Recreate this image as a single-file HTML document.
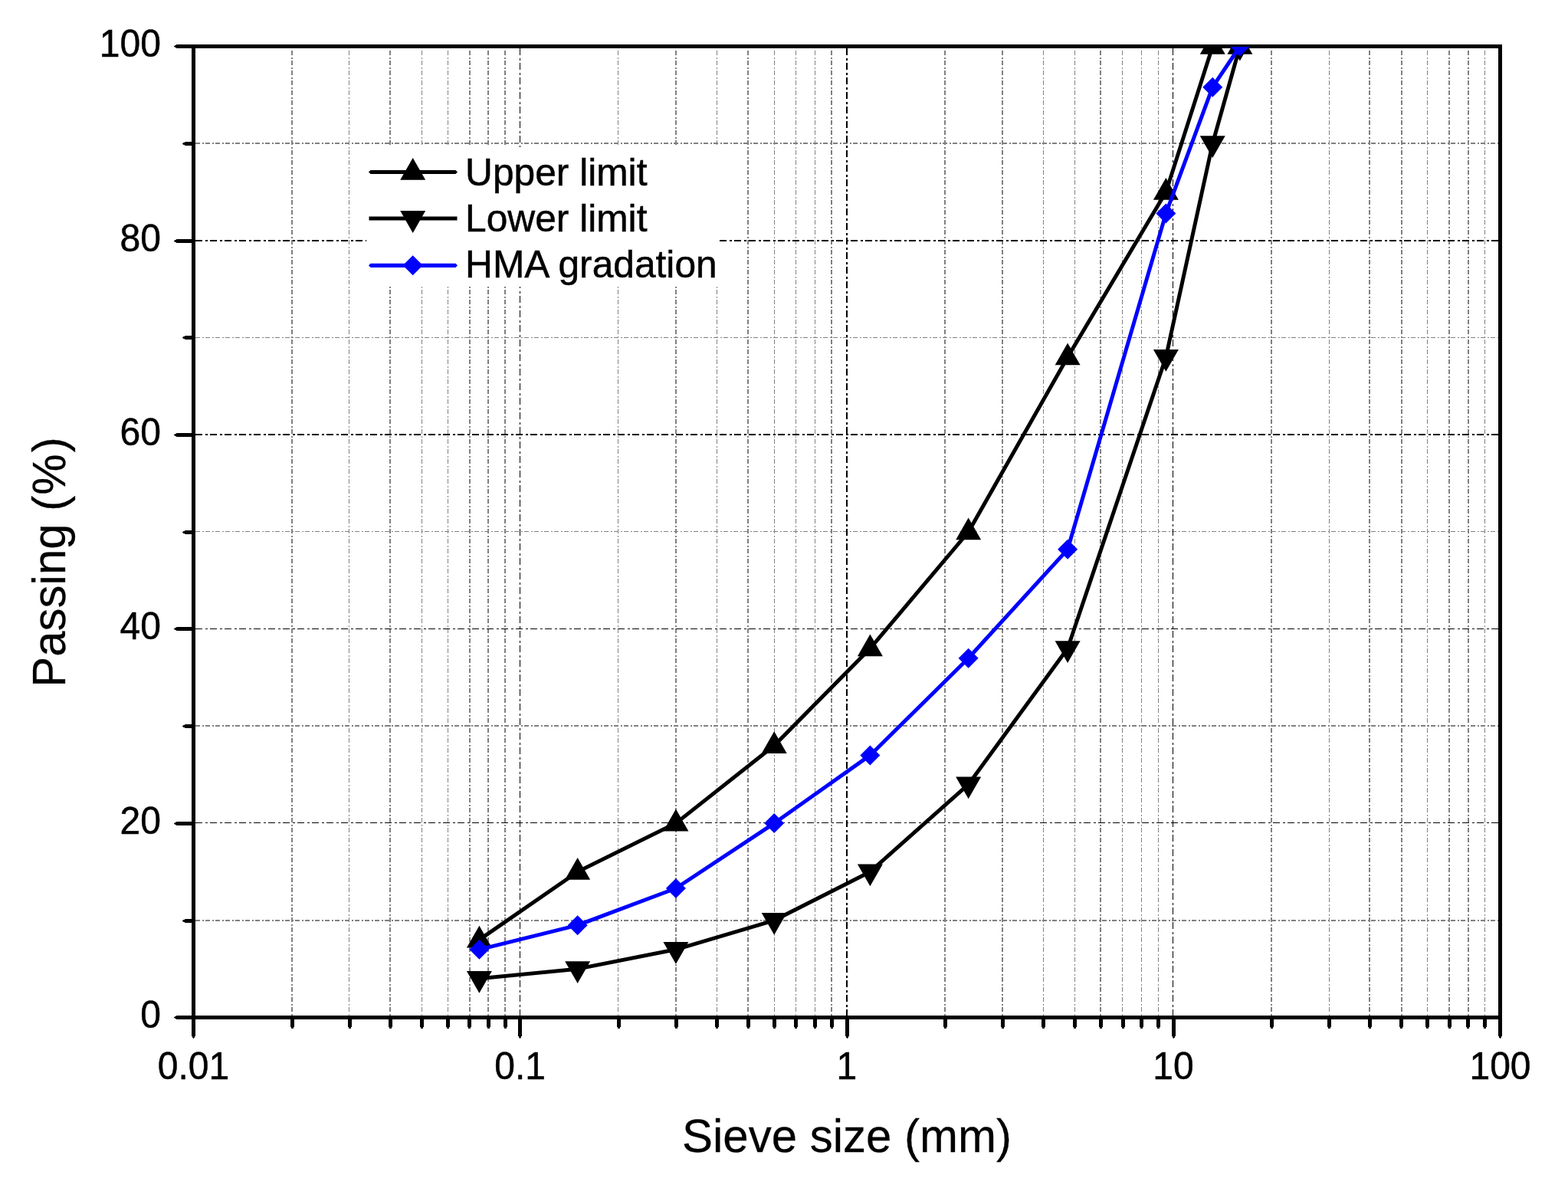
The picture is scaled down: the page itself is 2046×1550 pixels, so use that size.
<!DOCTYPE html>
<html lang="en">
<head>
<meta charset="utf-8">
<title>Gradation curve</title>
<style>
html,body{margin:0;padding:0;background:#fff;}
body{width:2046px;height:1550px;overflow:hidden;}
svg{display:block;}
text{font-family:"Liberation Sans", sans-serif;fill:#000;stroke:#000;stroke-width:0.5px;}
text.ttl{stroke-width:0.25px;}
</style>
</head>
<body>
<svg width="2046" height="1550" viewBox="0 0 2046 1550">
<rect x="0" y="0" width="2046" height="1550" fill="#ffffff"/>
<defs><clipPath id="plot"><rect x="252" y="61" width="1706" height="1267"/></clipPath></defs>
<g fill="none" shape-rendering="crispEdges">
<line x1="381" y1="66" x2="381" y2="1325" stroke="#808080" stroke-width="2" stroke-dasharray="6.3 2.35 2 2.35"/>
<line x1="455.5" y1="66" x2="455.5" y2="1325" stroke="#808080" stroke-width="1" stroke-dasharray="6.3 2.35 2 2.35"/>
<line x1="509" y1="66" x2="509" y2="1325" stroke="#808080" stroke-width="2" stroke-dasharray="6.3 2.35 2 2.35"/>
<line x1="550.5" y1="66" x2="550.5" y2="1325" stroke="#808080" stroke-width="1" stroke-dasharray="6.3 2.35 2 2.35"/>
<line x1="584.5" y1="66" x2="584.5" y2="1325" stroke="#808080" stroke-width="1" stroke-dasharray="6.3 2.35 2 2.35"/>
<line x1="613" y1="66" x2="613" y2="1325" stroke="#808080" stroke-width="2" stroke-dasharray="6.3 2.35 2 2.35"/>
<line x1="637" y1="66" x2="637" y2="1325" stroke="#808080" stroke-width="2" stroke-dasharray="6.3 2.35 2 2.35"/>
<line x1="659" y1="66" x2="659" y2="1325" stroke="#808080" stroke-width="2" stroke-dasharray="6.3 2.35 2 2.35"/>
<line x1="806.5" y1="66" x2="806.5" y2="1325" stroke="#808080" stroke-width="1" stroke-dasharray="6.3 2.35 2 2.35"/>
<line x1="882" y1="66" x2="882" y2="1325" stroke="#808080" stroke-width="2" stroke-dasharray="6.3 2.35 2 2.35"/>
<line x1="935.5" y1="66" x2="935.5" y2="1325" stroke="#808080" stroke-width="1" stroke-dasharray="6.3 2.35 2 2.35"/>
<line x1="976" y1="66" x2="976" y2="1325" stroke="#808080" stroke-width="2" stroke-dasharray="6.3 2.35 2 2.35"/>
<line x1="1010.5" y1="66" x2="1010.5" y2="1325" stroke="#808080" stroke-width="1" stroke-dasharray="6.3 2.35 2 2.35"/>
<line x1="1038.5" y1="66" x2="1038.5" y2="1325" stroke="#808080" stroke-width="1" stroke-dasharray="6.3 2.35 2 2.35"/>
<line x1="1063.5" y1="66" x2="1063.5" y2="1325" stroke="#808080" stroke-width="1" stroke-dasharray="6.3 2.35 2 2.35"/>
<line x1="1085" y1="66" x2="1085" y2="1325" stroke="#808080" stroke-width="2" stroke-dasharray="6.3 2.35 2 2.35"/>
<line x1="1233" y1="66" x2="1233" y2="1325" stroke="#808080" stroke-width="2" stroke-dasharray="6.3 2.35 2 2.35"/>
<line x1="1308" y1="66" x2="1308" y2="1325" stroke="#808080" stroke-width="2" stroke-dasharray="6.3 2.35 2 2.35"/>
<line x1="1361.5" y1="66" x2="1361.5" y2="1325" stroke="#808080" stroke-width="1" stroke-dasharray="6.3 2.35 2 2.35"/>
<line x1="1402.5" y1="66" x2="1402.5" y2="1325" stroke="#808080" stroke-width="1" stroke-dasharray="6.3 2.35 2 2.35"/>
<line x1="1436" y1="66" x2="1436" y2="1325" stroke="#808080" stroke-width="2" stroke-dasharray="6.3 2.35 2 2.35"/>
<line x1="1464.5" y1="66" x2="1464.5" y2="1325" stroke="#808080" stroke-width="1" stroke-dasharray="6.3 2.35 2 2.35"/>
<line x1="1489.5" y1="66" x2="1489.5" y2="1325" stroke="#808080" stroke-width="1" stroke-dasharray="6.3 2.35 2 2.35"/>
<line x1="1511.5" y1="66" x2="1511.5" y2="1325" stroke="#808080" stroke-width="1" stroke-dasharray="6.3 2.35 2 2.35"/>
<line x1="1659" y1="66" x2="1659" y2="1325" stroke="#808080" stroke-width="2" stroke-dasharray="6.3 2.35 2 2.35"/>
<line x1="1734.5" y1="66" x2="1734.5" y2="1325" stroke="#808080" stroke-width="1" stroke-dasharray="6.3 2.35 2 2.35"/>
<line x1="1787" y1="66" x2="1787" y2="1325" stroke="#808080" stroke-width="2" stroke-dasharray="6.3 2.35 2 2.35"/>
<line x1="1829" y1="66" x2="1829" y2="1325" stroke="#808080" stroke-width="2" stroke-dasharray="6.3 2.35 2 2.35"/>
<line x1="1862.5" y1="66" x2="1862.5" y2="1325" stroke="#808080" stroke-width="1" stroke-dasharray="6.3 2.35 2 2.35"/>
<line x1="1891" y1="66" x2="1891" y2="1325" stroke="#808080" stroke-width="2" stroke-dasharray="6.3 2.35 2 2.35"/>
<line x1="1916" y1="66" x2="1916" y2="1325" stroke="#808080" stroke-width="2" stroke-dasharray="6.3 2.35 2 2.35"/>
<line x1="1937.5" y1="66" x2="1937.5" y2="1325" stroke="#808080" stroke-width="1" stroke-dasharray="6.3 2.35 2 2.35"/>
<line x1="255" y1="1201" x2="1955" y2="1201" stroke="#808080" stroke-width="2" stroke-dasharray="6.3 2.35 2 2.35"/>
<line x1="255" y1="947" x2="1955" y2="947" stroke="#808080" stroke-width="2" stroke-dasharray="6.3 2.35 2 2.35"/>
<line x1="255" y1="693.5" x2="1955" y2="693.5" stroke="#808080" stroke-width="1" stroke-dasharray="6.3 2.35 2 2.35"/>
<line x1="255" y1="440.5" x2="1955" y2="440.5" stroke="#808080" stroke-width="1" stroke-dasharray="6.3 2.35 2 2.35"/>
<line x1="255" y1="187" x2="1955" y2="187" stroke="#808080" stroke-width="2" stroke-dasharray="6.3 2.35 2 2.35"/>
<line x1="678.5" y1="63" x2="678.5" y2="1325" stroke="#000" stroke-width="1" stroke-dasharray="9.4 3.3 3 3.3"/>
<line x1="1105" y1="63" x2="1105" y2="1325" stroke="#000" stroke-width="2" stroke-dasharray="9.4 3.3 3 3.3"/>
<line x1="1530.5" y1="63" x2="1530.5" y2="1325" stroke="#000" stroke-width="1" stroke-dasharray="9.4 3.3 3 3.3"/>
<line x1="255" y1="1073.5" x2="1955" y2="1073.5" stroke="#000" stroke-width="1" stroke-dasharray="9.4 3.3 3 3.3"/>
<line x1="255" y1="820.5" x2="1955" y2="820.5" stroke="#000" stroke-width="1" stroke-dasharray="9.4 3.3 3 3.3"/>
<line x1="255" y1="567" x2="1955" y2="567" stroke="#000" stroke-width="2" stroke-dasharray="9.4 3.3 3 3.3"/>
<line x1="255" y1="314" x2="1955" y2="314" stroke="#000" stroke-width="2" stroke-dasharray="9.4 3.3 3 3.3"/>
</g>
<rect x="478" y="192" width="461" height="182" fill="#ffffff"/>
<g fill="#000" shape-rendering="crispEdges">
<rect x="250" y="58" width="1710" height="5"/>
<rect x="250" y="1325" width="1710" height="5"/>
<rect x="250" y="58" width="5" height="1272"/>
<rect x="1955" y="58" width="5" height="1272"/>
<path d="M251 1325 H230 V1326 H228 V1327 H227 V1328 H228 V1329 H230 V1330 H251Z"/>
<path d="M251 1199 H241 V1200 H239 V1201 H238 V1202 H239 V1203 H241 V1204 H251Z"/>
<path d="M251 1072 H230 V1073 H228 V1074 H227 V1075 H228 V1076 H230 V1077 H251Z"/>
<path d="M251 945 H241 V946 H239 V947 H238 V948 H239 V949 H241 V950 H251Z"/>
<path d="M251 818 H230 V819 H228 V820 H227 V821 H228 V822 H230 V823 H251Z"/>
<path d="M251 692 H241 V693 H239 V694 H238 V695 H239 V696 H241 V697 H251Z"/>
<path d="M251 565 H230 V566 H228 V567 H227 V568 H228 V569 H230 V570 H251Z"/>
<path d="M251 438 H241 V439 H239 V440 H238 V441 H239 V442 H241 V443 H251Z"/>
<path d="M251 312 H230 V313 H228 V314 H227 V315 H228 V316 H230 V317 H251Z"/>
<path d="M251 185 H241 V186 H239 V187 H238 V188 H239 V189 H241 V190 H251Z"/>
<path d="M251 58 H230 V59 H228 V60 H227 V61 H228 V62 H230 V63 H251Z"/>
<path d="M250 1329 V1352 H251 V1354 H252 V1355 H253 V1354 H254 V1352 H255 V1329Z"/>
<path d="M379 1329 V1340 H380 V1342 H383 V1340 H384 V1329Z"/>
<path d="M454 1329 V1340 H455 V1342 H458 V1340 H459 V1329Z"/>
<path d="M507 1329 V1340 H508 V1342 H511 V1340 H512 V1329Z"/>
<path d="M548 1329 V1340 H549 V1342 H552 V1340 H553 V1329Z"/>
<path d="M582 1329 V1340 H583 V1342 H586 V1340 H587 V1329Z"/>
<path d="M610 1329 V1340 H611 V1342 H614 V1340 H615 V1329Z"/>
<path d="M635 1329 V1340 H636 V1342 H639 V1340 H640 V1329Z"/>
<path d="M657 1329 V1340 H658 V1342 H661 V1340 H662 V1329Z"/>
<path d="M676 1329 V1352 H677 V1354 H678 V1355 H679 V1354 H680 V1352 H681 V1329Z"/>
<path d="M805 1329 V1340 H806 V1342 H809 V1340 H810 V1329Z"/>
<path d="M880 1329 V1340 H881 V1342 H884 V1340 H885 V1329Z"/>
<path d="M933 1329 V1340 H934 V1342 H937 V1340 H938 V1329Z"/>
<path d="M974 1329 V1340 H975 V1342 H978 V1340 H979 V1329Z"/>
<path d="M1008 1329 V1340 H1009 V1342 H1012 V1340 H1013 V1329Z"/>
<path d="M1036 1329 V1340 H1037 V1342 H1040 V1340 H1041 V1329Z"/>
<path d="M1061 1329 V1340 H1062 V1342 H1065 V1340 H1066 V1329Z"/>
<path d="M1083 1329 V1340 H1084 V1342 H1087 V1340 H1088 V1329Z"/>
<path d="M1103 1329 V1352 H1104 V1354 H1105 V1355 H1106 V1354 H1107 V1352 H1108 V1329Z"/>
<path d="M1231 1329 V1340 H1232 V1342 H1235 V1340 H1236 V1329Z"/>
<path d="M1306 1329 V1340 H1307 V1342 H1310 V1340 H1311 V1329Z"/>
<path d="M1359 1329 V1340 H1360 V1342 H1363 V1340 H1364 V1329Z"/>
<path d="M1400 1329 V1340 H1401 V1342 H1404 V1340 H1405 V1329Z"/>
<path d="M1434 1329 V1340 H1435 V1342 H1438 V1340 H1439 V1329Z"/>
<path d="M1463 1329 V1340 H1464 V1342 H1467 V1340 H1468 V1329Z"/>
<path d="M1487 1329 V1340 H1488 V1342 H1491 V1340 H1492 V1329Z"/>
<path d="M1509 1329 V1340 H1510 V1342 H1513 V1340 H1514 V1329Z"/>
<path d="M1529 1329 V1352 H1530 V1354 H1531 V1355 H1532 V1354 H1533 V1352 H1534 V1329Z"/>
<path d="M1657 1329 V1340 H1658 V1342 H1661 V1340 H1662 V1329Z"/>
<path d="M1732 1329 V1340 H1733 V1342 H1736 V1340 H1737 V1329Z"/>
<path d="M1785 1329 V1340 H1786 V1342 H1789 V1340 H1790 V1329Z"/>
<path d="M1826 1329 V1340 H1827 V1342 H1830 V1340 H1831 V1329Z"/>
<path d="M1860 1329 V1340 H1861 V1342 H1864 V1340 H1865 V1329Z"/>
<path d="M1889 1329 V1340 H1890 V1342 H1893 V1340 H1894 V1329Z"/>
<path d="M1913 1329 V1340 H1914 V1342 H1917 V1340 H1918 V1329Z"/>
<path d="M1935 1329 V1340 H1936 V1342 H1939 V1340 H1940 V1329Z"/>
<path d="M1955 1329 V1352 H1956 V1354 H1957 V1355 H1958 V1354 H1959 V1352 H1960 V1329Z"/>
</g>
<g clip-path="url(#plot)">
<polyline points="625.39,1226.14 753.66,1137.45 881.94,1074.10 1010.21,972.74 1135.38,846.04 1263.66,694.00 1393.11,465.94 1521.38,250.55 1582.25,60.50 1617.86,60.50" fill="none" stroke="#000000" stroke-width="5" stroke-linejoin="round"/>
<path d="M625.39 1207.64 L641.89 1236.44 L608.89 1236.44Z M753.66 1118.95 L770.16 1147.75 L737.16 1147.75Z M881.94 1055.60 L898.44 1084.40 L865.44 1084.40Z M1010.21 954.24 L1026.71 983.04 L993.71 983.04Z M1135.38 827.54 L1151.88 856.34 L1118.88 856.34Z M1263.66 675.50 L1280.16 704.30 L1247.16 704.30Z M1393.11 447.44 L1409.61 476.24 L1376.61 476.24Z M1521.38 232.05 L1537.88 260.85 L1504.88 260.85Z M1582.25 42.00 L1598.75 70.80 L1565.75 70.80Z M1617.86 42.00 L1634.36 70.80 L1601.36 70.80Z" fill="#000000"/>
<polyline points="625.39,1276.82 753.66,1264.15 881.94,1238.81 1010.21,1200.80 1135.38,1137.45 1263.66,1023.42 1393.11,846.04 1521.38,465.94 1582.25,187.20 1617.86,60.50" fill="none" stroke="#000000" stroke-width="5" stroke-linejoin="round"/>
<path d="M625.39 1295.72 L641.89 1266.92 L608.89 1266.92Z M753.66 1283.05 L770.16 1254.25 L737.16 1254.25Z M881.94 1257.71 L898.44 1228.91 L865.44 1228.91Z M1010.21 1219.70 L1026.71 1190.90 L993.71 1190.90Z M1135.38 1156.35 L1151.88 1127.55 L1118.88 1127.55Z M1263.66 1042.32 L1280.16 1013.52 L1247.16 1013.52Z M1393.11 864.94 L1409.61 836.14 L1376.61 836.14Z M1521.38 484.84 L1537.88 456.04 L1504.88 456.04Z M1582.25 206.10 L1598.75 177.30 L1565.75 177.30Z M1617.86 79.40 L1634.36 50.60 L1601.36 50.60Z" fill="#000000"/>
<polyline points="625.39,1238.81 753.66,1207.13 881.94,1158.99 1010.21,1074.10 1135.38,985.41 1263.66,858.71 1393.11,716.81 1521.38,278.42 1582.25,113.71 1617.86,60.50" fill="none" stroke="#0000ff" stroke-width="5" stroke-linejoin="round"/>
<path d="M625.39 1225.81 L638.39 1238.81 L625.39 1251.81 L612.39 1238.81Z M753.66 1194.13 L766.66 1207.13 L753.66 1220.13 L740.66 1207.13Z M881.94 1145.99 L894.94 1158.99 L881.94 1171.99 L868.94 1158.99Z M1010.21 1061.10 L1023.21 1074.10 L1010.21 1087.10 L997.21 1074.10Z M1135.38 972.41 L1148.38 985.41 L1135.38 998.41 L1122.38 985.41Z M1263.66 845.71 L1276.66 858.71 L1263.66 871.71 L1250.66 858.71Z M1393.11 703.81 L1406.11 716.81 L1393.11 729.81 L1380.11 716.81Z M1521.38 265.42 L1534.38 278.42 L1521.38 291.42 L1508.38 278.42Z M1582.25 100.71 L1595.25 113.71 L1582.25 126.71 L1569.25 113.71Z M1617.86 47.50 L1630.86 60.50 L1617.86 73.50 L1604.86 60.50Z" fill="#0000ff"/>
</g>
<g font-size="48">
<text transform="translate(209.9 1341.2) scale(1 1.03)" text-anchor="end">0</text>
<text transform="translate(209.9 1087.8) scale(1 1.03)" text-anchor="end">20</text>
<text transform="translate(209.9 834.4) scale(1 1.03)" text-anchor="end">40</text>
<text transform="translate(209.9 581.0) scale(1 1.03)" text-anchor="end">60</text>
<text transform="translate(209.9 327.6) scale(1 1.03)" text-anchor="end">80</text>
<text transform="translate(209.9 74.2) scale(1 1.03)" text-anchor="end">100</text>
<text transform="translate(252.5 1407.5) scale(1 1.03)" text-anchor="middle">0.01</text>
<text transform="translate(678.6 1407.5) scale(1 1.03)" text-anchor="middle">0.1</text>
<text transform="translate(1104.8 1407.5) scale(1 1.03)" text-anchor="middle">1</text>
<text transform="translate(1530.9 1407.5) scale(1 1.03)" text-anchor="middle">10</text>
<text transform="translate(1957.5 1407.5) scale(1 1.03)" text-anchor="middle">100</text>
</g>
<text transform="translate(1105 1503.4) scale(1 1.02)" font-size="60" text-anchor="middle" class="ttl">Sieve size (mm)</text>
<text transform="translate(85.2 896.8) rotate(-90) scale(1 1.02)" font-size="60" class="ttl" dx="0 0 0 0 0 0 0 0 0 1 2">Passing (%)</text>
<path d="M481 224.5 L483.5 221.9 H594.5 L597 224.5 L594.5 227.1 H483.5Z" fill="#000000"/>
<path d="M538.70 206.00 L555.20 234.80 L522.20 234.80Z" fill="#000000"/>
<text x="607" y="241.5" font-size="49.7">Upper limit</text>
<line x1="481.5" y1="285.0" x2="596.5" y2="285.0" stroke="#000000" stroke-width="5"/>
<path d="M538.70 303.90 L555.20 275.10 L522.20 275.10Z" fill="#000000"/>
<text x="607" y="301.8" font-size="49.7">Lower limit</text>
<path d="M481 346.3 L483.5 343.7 H594.5 L597 346.3 L594.5 348.9 H483.5Z" fill="#0000ff"/>
<path d="M538.70 333.30 L551.70 346.30 L538.70 359.30 L525.70 346.30Z" fill="#0000ff"/>
<text x="607" y="362.0" font-size="49.7">HMA gradation</text>
</svg>
</body>
</html>
